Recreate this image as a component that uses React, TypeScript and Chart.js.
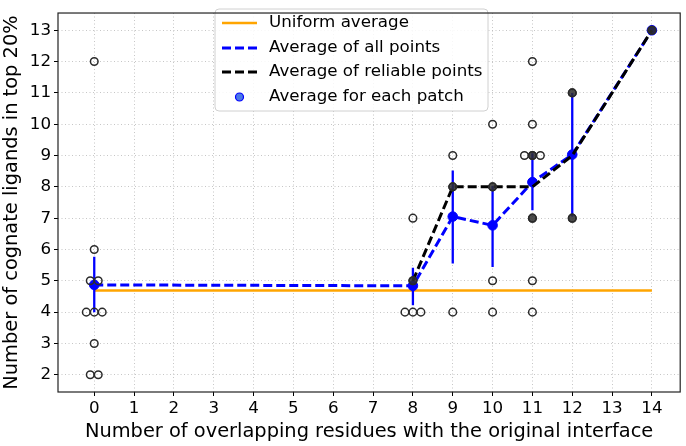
import React, { useEffect, useRef } from "react";
import { Chart, registerables } from "chart.js";

Chart.register(...registerables);

// ---- data ----
const xTicks = [0, 1, 2, 3, 4, 5, 6, 7, 8, 9, 10, 11, 12, 13, 14];
const yTicks = [2, 3, 4, 5, 6, 7, 8, 9, 10, 11, 12, 13];

// every individual patch value (small horizontal jitter where points coincide)
const sampleX = [0, 0, -0.1, 0.1, -0.2, 0, 0.2, 0, -0.1, 0.1, 8, 8, 7.8, 8, 8.2, 9, 9, 9, 10, 10, 10, 10, 11, 11, 10.8, 11, 11.2, 11, 11, 11, 12, 12, 14];
const sampleY = [12, 6, 5, 5, 4, 4, 4, 3, 2, 2, 7, 5, 4, 4, 4, 9, 8, 4, 10, 8, 5, 4, 12, 10, 9, 9, 9, 7, 5, 4, 11, 7, 13];

// reliable points
const reliableX = [8, 9, 10, 11, 11, 12, 12, 14];
const reliableY = [5, 8, 8, 9, 7, 11, 7, 13];

// average of all points per overlap value, with error bars
const meanX = [0, 8, 9, 10, 11, 12, 14];
const meanY = [4.87, 4.84, 7.05, 6.77, 8.15, 9.03, 13];
const errLow = [4.0, 4.22, 5.55, 5.44, 7.25, 7.05, null];
const errHigh = [5.77, 5.42, 8.52, 8.03, 9.07, 11.0, null];

// average of reliable points
const relAvgX = [8, 9, 10, 11, 12, 14];
const relAvgY = [5, 8, 8, 8, 9, 13];

// uniform average
const uniformX = [0, 14];
const uniformY = [4.69, 4.69];

const legendLabels = ["Uniform average", "Average of all points", "Average of reliable points", "Average for each patch"];

const FONT = "'DejaVu Sans', sans-serif";

const zip = (xs: number[], ys: (number | null)[]) => xs.map((x, i) => ({ x, y: ys[i] }));

const errData: { x: number; y: number | null }[] = [];
meanX.forEach((x, i) => {
  if (errLow[i] == null || errHigh[i] == null) return;
  errData.push({ x, y: errLow[i] as number });
  errData.push({ x, y: errHigh[i] as number });
  errData.push({ x, y: null });
});

const boxPlugin = {
  id: "boxAndLegend",
  afterDraw(chart: any) {
    const { ctx, chartArea } = chart;
    const { left, right, top, bottom } = chartArea;
    ctx.save();
    // legend
    const lx = 215, ly = 9, lw = 273, lh = 102, r = 4;
    ctx.beginPath();
    ctx.moveTo(lx + r, ly);
    ctx.lineTo(lx + lw - r, ly);
    ctx.quadraticCurveTo(lx + lw, ly, lx + lw, ly + r);
    ctx.lineTo(lx + lw, ly + lh - r);
    ctx.quadraticCurveTo(lx + lw, ly + lh, lx + lw - r, ly + lh);
    ctx.lineTo(lx + r, ly + lh);
    ctx.quadraticCurveTo(lx, ly + lh, lx, ly + lh - r);
    ctx.lineTo(lx, ly + r);
    ctx.quadraticCurveTo(lx, ly, lx + r, ly);
    ctx.closePath();
    ctx.fillStyle = "rgba(255,255,255,0.85)";
    ctx.fill();
    ctx.strokeStyle = "#d0d0d0";
    ctx.lineWidth = 1;
    ctx.stroke();

    const rowsY = [23, 48, 72, 97];
    const hx0 = 222, hx1 = 257;
    ctx.lineCap = "butt";
    ctx.setLineDash([]);
    ctx.strokeStyle = "#ffa500";
    ctx.lineWidth = 2.5;
    ctx.beginPath(); ctx.moveTo(hx0, rowsY[0]); ctx.lineTo(hx1, rowsY[0]); ctx.stroke();
    ctx.setLineDash([9, 4]);
    ctx.strokeStyle = "#0000ff";
    ctx.lineWidth = 3;
    ctx.beginPath(); ctx.moveTo(hx0, rowsY[1]); ctx.lineTo(hx1, rowsY[1]); ctx.stroke();
    ctx.strokeStyle = "#000000";
    ctx.beginPath(); ctx.moveTo(hx0, rowsY[2]); ctx.lineTo(hx1, rowsY[2]); ctx.stroke();
    ctx.setLineDash([]);
    ctx.beginPath(); ctx.arc(239.5, rowsY[3], 4, 0, Math.PI * 2);
    ctx.fillStyle = "#4a78e6"; ctx.fill();
    ctx.strokeStyle = "#0000ff"; ctx.lineWidth = 1.2; ctx.stroke();

    ctx.fillStyle = "#000";
    ctx.font = `16.7px ${FONT}`;
    ctx.textBaseline = "middle";
    ctx.textAlign = "left";
    legendLabels.forEach((t, i) => ctx.fillText(t, 269, rowsY[i]));

    // frame
    ctx.strokeStyle = "#222";
    ctx.lineWidth = 1.2;
    ctx.strokeRect(left, top, right - left, bottom - top);
    ctx.restore();
  },
};

export default function App() {
  const ref = useRef<HTMLCanvasElement | null>(null);
  useEffect(() => {
    if (!ref.current) return;
    const chart = new Chart(ref.current, {
      type: "scatter",
      data: {
        datasets: [
          {
            label: "reliable",
            data: zip(reliableX, reliableY),
            pointRadius: 3.8,
            pointBackgroundColor: "rgba(45,45,45,0.85)",
            pointBorderColor: "#2a2a2a",
            pointBorderWidth: 1.5,
            showLine: false,
            order: 0,
          },
          {
            label: "samples",
            data: zip(sampleX, sampleY),
            pointRadius: 3.8,
            pointBackgroundColor: "rgba(0,0,0,0)",
            pointBorderColor: "#2a2a2a",
            pointBorderWidth: 1.5,
            showLine: false,
            order: 1,
          },
          {
            label: "reliableAvg",
            data: zip(relAvgX, relAvgY),
            showLine: true,
            borderColor: "#000",
            borderWidth: 3,
            borderDash: [9, 4],
            pointRadius: 0,
            order: 2,
          },
          {
            label: "means",
            data: zip(meanX, meanY),
            showLine: false,
            pointRadius: 4.8,
            pointBackgroundColor: "#0000ff",
            pointBorderColor: "#0000ff",
            pointBorderWidth: 1,
            order: 3,
          },
          {
            label: "err",
            data: errData,
            showLine: true,
            spanGaps: false,
            borderColor: "#0000ff",
            borderWidth: 2.3,
            pointRadius: 0,
            order: 4,
          },
          {
            label: "allAvg",
            data: zip(meanX, meanY),
            showLine: true,
            borderColor: "#0000ff",
            borderWidth: 3,
            borderDash: [9, 4],
            pointRadius: 0,
            order: 5,
          },
          {
            label: "uniform",
            data: zip(uniformX, uniformY),
            showLine: true,
            borderColor: "#ffa500",
            borderWidth: 2.5,
            pointRadius: 0,
            order: 6,
          },
        ],
      },
      options: {
        animation: false,
        responsive: false,
        devicePixelRatio: 1,
        layout: { padding: { left: 0, right: 2, top: 3, bottom: 0 } },
        plugins: { legend: { display: false }, tooltip: { enabled: false } },
        scales: {
          x: {
            type: "linear",
            min: -0.91,
            max: 14.71,
            afterBuildTicks: (s: any) => { s.ticks = xTicks.map((v) => ({ value: v })); },
            afterFit: (s: any) => { s.height = 54; },
            ticks: { font: { family: FONT, size: 16.7 }, color: "#000", padding: 3, maxRotation: 0, autoSkip: false },
            grid: { color: "#b8b8b8", lineWidth: 0.8, tickColor: "#000", tickLength: 4, tickWidth: 1 },
            border: { display: false, dash: [1, 2.5] },
            title: { display: true, text: "Number of overlapping residues with the original interface", font: { family: FONT, size: 19.4 }, color: "#000", padding: { top: 0, bottom: 2 } },
          },
          y: {
            type: "linear",
            min: 1.45,
            max: 13.55,
            afterBuildTicks: (s: any) => { s.ticks = yTicks.map((v) => ({ value: v })); },
            afterFit: (s: any) => { s.width = 58; },
            ticks: { font: { family: FONT, size: 16.7 }, color: "#000", padding: 3, autoSkip: false },
            grid: { color: "#b8b8b8", lineWidth: 0.8, tickColor: "#000", tickLength: 4, tickWidth: 1 },
            border: { display: false, dash: [1, 2.5] },
            title: { display: true, text: "Number of cognate ligands in top 20%", font: { family: FONT, size: 19.4 }, color: "#000", padding: { top: 0, bottom: 0 } },
          },
        },
      },
      plugins: [boxPlugin],
    } as any);
    return () => chart.destroy();
  }, []);
  return (
    <div style={{ position: "absolute", left: 0, top: 0, width: 686, height: 446 }}>
      <canvas ref={ref} width={686} height={446} style={{ width: 686, height: 446 }} />
    </div>
  );
}
